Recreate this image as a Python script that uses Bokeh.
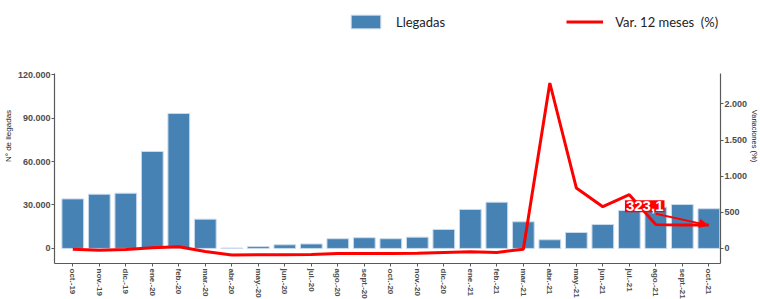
from bokeh.plotting import figure
from bokeh.models import (Range1d, LinearAxis, FixedTicker, Legend, LegendItem,
                          Label, Arrow, NormalHead, ColumnDataSource)
from bokeh.embed import file_html
from bokeh.resources import INLINE

months = ["oct.-19", "nov.-19", "dic.-19", "ene.-20", "feb.-20", "mar.-20", "abr.-20",
          "may.-20", "jun.-20", "jul.-20", "ago.-20", "sept.-20", "oct.-20", "nov.-20",
          "dic.-20", "ene.-21", "feb.-21", "mar.-21", "abr.-21", "may.-21", "jun.-21",
          "jul.-21", "ago.-21", "sept.-21", "oct.-21"]
llegadas = [34200, 37400, 38100, 66900, 93100, 20200, 250, 1300, 2500, 3100, 6700, 7400,
            6700, 7800, 13100, 26900, 31900, 18400, 6000, 11000, 16500, 26200, 28500,
            30300, 27400]
variacion = [-10, -23, -14, 10, 25, -42, -90, -88, -88, -85, -70, -70, -70, -65, -55, -46,
             -55, -10, 2290, 837, 578, 744, 330, 326, 323.1]
left_ticks = [0, 30000, 60000, 90000, 120000]
left_labels = ["0", "30.000", "60.000", "90.000", "120.000"]
right_ticks = [0, 500, 1000, 1500, 2000]
right_labels = ["0", "500", "1.000", "1.500", "2.000"]
last_label = "323,1"

src = ColumnDataSource(dict(x=list(range(len(months))), llegadas=llegadas, var=variacion))

p = figure(frame_width=666, frame_height=255, x_range=Range1d(-0.69, 24.44),
           y_range=Range1d(-10400, 165600), output_backend="svg", toolbar_location=None,
           min_border_left=0, min_border_right=0, min_border_top=8, min_border_bottom=0)
p.margin = (0, -30, -30, 0)
p.extra_y_ranges = {"var": Range1d(-208, 3321)}
p.outline_line_color = None
p.xgrid.visible = False
p.ygrid.visible = False

AX = "#595959"
LBL = "#4d4d4d"

bars = p.vbar(x="x", top="llegadas", width=0.82, source=src, fill_color="#4682B4",
              line_color="#c9dbed", line_width=1)
line = p.line(x="x", y="var", source=src, y_range_name="var", line_color="#ff0000",
              line_width=3)

xa = p.xaxis[0]
xa.ticker = FixedTicker(ticks=list(range(len(months))))
xa.major_label_overrides = {i: m for i, m in enumerate(months)}
xa.major_label_orientation = "vertical"

ya = p.yaxis[0]
ya.ticker = FixedTicker(ticks=left_ticks)
ya.major_label_overrides = dict(zip(left_ticks, left_labels))
ya.axis_label = "N° de llegadas"
ya.bounds = (-10400, 120500)

ra = LinearAxis(y_range_name="var", ticker=FixedTicker(ticks=right_ticks),
                major_label_overrides=dict(zip(right_ticks, right_labels)),
                axis_label="Variaciones (%)", bounds=(-208, 2416))
p.add_layout(ra, "right")

for ax in (xa, ya, ra):
    ax.axis_line_color = AX
    ax.axis_line_width = 1.2
    ax.major_tick_line_color = AX
    ax.major_tick_out = 3
    ax.major_tick_in = 0
    ax.minor_tick_line_color = None
    ax.major_label_text_font = "Liberation Sans"
    ax.major_label_text_font_style = "bold"
    ax.major_label_text_font_size = "9px"
    ax.major_label_text_color = LBL
    ax.major_label_standoff = 1
    ax.axis_label_text_font = "Liberation Sans"
    ax.axis_label_text_font_style = "normal"
    ax.axis_label_text_font_size = "8px"
    ax.axis_label_text_color = "#1a1a1a"
    ax.axis_label_standoff = 2
xa.major_label_standoff = 2
xa.major_label_text_font_size = "8px"
ra.axis_label_standoff = 0
ra.axis_label_text_font_size = "7.5px"

legend = Legend(items=[LegendItem(label="Llegadas", renderers=[bars]),
                       LegendItem(label="Var. 12 meses  (%)", renderers=[line])],
                orientation="horizontal", location=(293, 233), glyph_width=37,
                glyph_height=17, label_standoff=12, spacing=121, padding=0, margin=0,
                border_line_color=None, background_fill_alpha=0,
                label_text_font="Lato", label_text_font_size="13px",
                label_text_color="#222222")
p.add_layout(legend, "center")

arrow = Arrow(end=NormalHead(size=8, fill_color="#ff0000", line_color="#ff0000"),
              x_start=22.0, y_start=480, x_end=23.95, y_end=variacion[-1],
              y_range_name="var", line_color="#ff0000", line_width=2)
p.add_layout(arrow)

lab = Label(x=21.58, y=584, y_range_name="var", text=last_label, text_align="center",
            text_baseline="middle", text_color="white", text_font="Liberation Sans",
            text_font_style="bold", text_font_size="15px", background_fill_color="#ff0000",
            padding=1)
p.add_layout(lab)

open("out.html", "w").write(file_html(p, INLINE))
